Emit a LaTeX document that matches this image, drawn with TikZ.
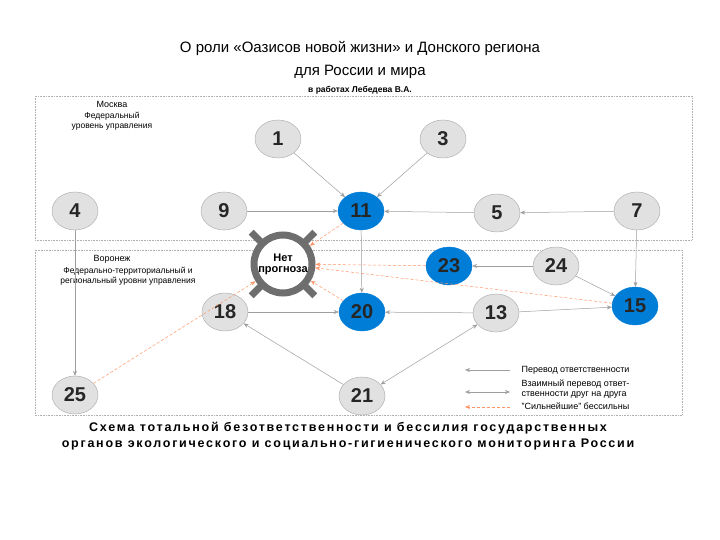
\documentclass[tikz,border=0pt]{standalone}
\usepackage{fontspec}
\setmainfont{Liberation Sans}
\usetikzlibrary{arrows.meta,shapes.geometric}
\definecolor{nblue}{RGB}{0,125,215}
\definecolor{ngray}{RGB}{225,225,225}
\definecolor{ring}{RGB}{110,110,110}
\begin{document}
\begin{tikzpicture}[x=1pt,y=-1pt,
  gnode/.style={ellipse,draw=gray!70,fill=ngray,minimum width=46pt,minimum height=38pt,inner sep=0pt,font=\fontsize{20}{20}\selectfont\bfseries,text=black!85},
  bnode/.style={gnode,fill=nblue,draw=nblue},
  conn/.style={draw=gray!75,line width=0.5pt,-{Stealth[length=5pt,width=4pt]}},
  both/.style={conn,{Stealth[length=5pt,width=4pt]}-{Stealth[length=5pt,width=4pt]}},
  weak/.style={draw=orange!60!red!60,densely dashed,line width=0.5pt,-{Stealth[length=5pt,width=4pt]}},
  zone/.style={draw=gray!60,densely dotted,line width=0.6pt},
  small/.style={font=\fontsize{9}{10.5}\selectfont,align=center}
]
\useasboundingbox (0,0) rectangle (720,540);
\fill[white] (0,0) rectangle (720,540);
\node (t1) at (360,48) {\fontsize{15}{17}\selectfont О роли «Оазисов новой жизни» и Донского региона};
\node (t2) at (360,72) {\fontsize{15}{17}\selectfont для России и мира};
\node (t3) at (360,90) {\fontsize{8.5}{9}\selectfont\bfseries в работах Лебедева В.А.};
\draw[zone] (35,96) rectangle (692,240);
\draw[zone] (35,250) rectangle (682,415);
\node[small] (mos) at (112,104) {Москва};
\node[small,font=\fontsize{8.5}{10}\selectfont] (mosd) at (112,121) {Федеральный\\уровень управления};
\node[small] (vor) at (112,259) {Воронеж};
\node[small,font=\fontsize{8.5}{10}\selectfont] (vord) at (128,276) {Федерально-территориальный и\\региональный уровни управления};
\node[gnode] (n1) at (278,139) {1};
\node[gnode] (n3) at (443,139) {3};
\node[gnode] (n4) at (75,211) {4};
\node[gnode] (n9) at (224,211) {9};
\node[bnode] (n11) at (361,211) {11};
\node[gnode] (n5) at (497,213) {5};
\node[gnode] (n7) at (637,211) {7};
\node[bnode] (n23) at (449,266) {23};
\node[gnode] (n24) at (556,266) {24};
\node[bnode] (n15) at (635,306) {15};
\node[gnode] (n18) at (225,312) {18};
\node[bnode] (n20) at (362,312) {20};
\node[gnode] (n13) at (496,313) {13};
\node[gnode] (n25) at (75,395) {25};
\node[gnode] (n21) at (362,396) {21};
% Net prognoza
\foreach \a in {45,135,225,315}
  \draw[ring,line width=7pt] (283,264) ++(\a:28) -- ++(\a:17);
\node[circle,draw=ring,line width=7pt,fill=white,minimum size=58pt,inner sep=0pt,align=center,font=\fontsize{11}{11}\selectfont\bfseries] (np) at (283,264) {Нет\\прогноза};
% connectors
\draw[conn] (n1) -- (n11);
\draw[conn] (n3) -- (n11);
\draw[conn] (n9) -- (n11);
\draw[conn] (n5) -- (n11);
\draw[conn] (n7) -- (n5);
\draw[conn] (n7) -- (n15);
\draw[conn] (n11) -- (n20);
\draw[conn] (n18) -- (n20);
\draw[conn] (n13) -- (n20);
\draw[conn] (n13) -- (n15);
\draw[conn] (n24) -- (n23);
\draw[conn] (n24) -- (n15);
\draw[conn] (n21) -- (n18);
\draw[both] (n13) -- (n21);
\draw[conn] (n4) -- (n25);
\draw[weak] (n11) -- (np);
\draw[weak] (n23) -- (np);
\draw[weak] (n15) -- (np);
\draw[weak] (n20) -- (np);
\draw[weak] (n25) -- (np);
% legend
\coordinate (l1a) at (465,370); \coordinate (l1b) at (510,370);
\coordinate (l2a) at (465,392); \coordinate (l2b) at (510,392);
\coordinate (l3a) at (465,407); \coordinate (l3b) at (510,407);
\draw[conn] (l1b) -- (l1a);
\draw[both] (l2a) -- (l2b);
\draw[weak] (l3b) -- (l3a);
\node[small,anchor=west,font=\fontsize{9}{10}\selectfont] (lg1) at (518,370) {Перевод ответственности};
\node[small,anchor=west,align=left,font=\fontsize{9}{10}\selectfont] (lg2) at (518,389) {Взаимный перевод ответ-\\ственности друг на друга};
\node[small,anchor=west,font=\fontsize{9}{10}\selectfont] (lg3) at (518,406) {"Сильнейшие" бессильны};
\node[align=center,font=\fontsize{12.5}{16}\selectfont\bfseries] (cap) at (348,436) {\addfontfeature{LetterSpace=14}Схема тотальной безответственности и бессилия государственных\\\addfontfeature{LetterSpace=14}органов экологического и социально-гигиенического мониторинга России};
\end{tikzpicture}
\end{document}
